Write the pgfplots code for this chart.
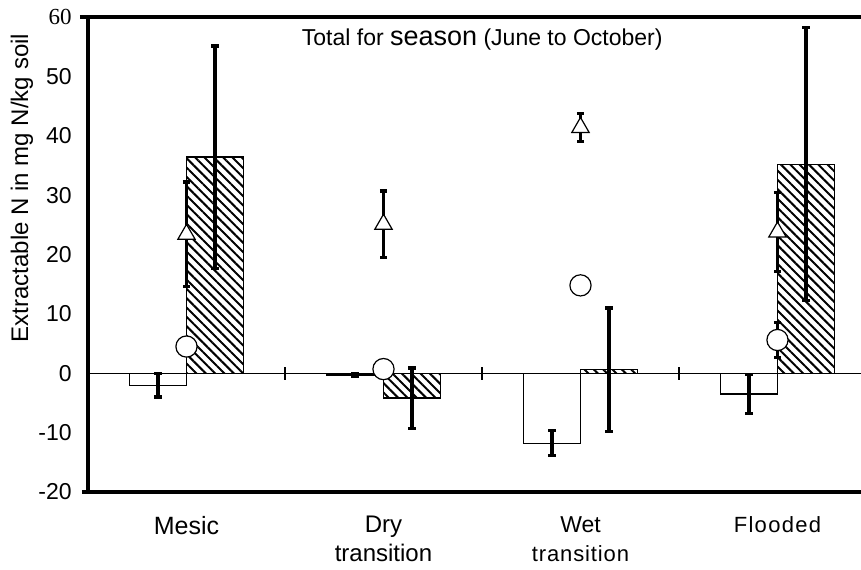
\documentclass[border=0pt]{standalone}
\usepackage{fontspec}
\setmainfont{Liberation Sans}
\newfontfamily\seriffont{Liberation Serif}
\usepackage{pgfplots}
\usepackage{pgfplotstable}
\pgfplotsset{compat=1.18}
\usetikzlibrary{patterns.meta}

\pgfplotstableread{
x y e
0.355 -2.0 2.0
1.355 -0.3 0.3
2.355 -11.8 2.1
3.355 -3.5 3.3
}\whitebars
\pgfplotstableread{
x y e
0.645 36.4 18.7
1.645 -4.2 5.1
2.645 0.6 10.4
3.645 35.2 23.0
}\hatchbars
\pgfplotstableread{
x y e
0.5 23.4 8.8
1.5 25.1 5.6
2.5 41.4 2.4
3.5 23.8 6.6
}\triangles
\pgfplotstableread{
x y e
0.5 4.5 0
1.5 0.7 0
2.5 14.8 0
3.5 5.6 3.0
}\circles

\begin{document}
\begin{tikzpicture}
\useasboundingbox (-44pt,-38.5pt) rectangle (386.5pt,246pt);
\begin{axis}[
  at={(0,0)}, anchor=south west,
  scale only axis, width=386.5pt, height=237.5pt,
  xmin=0, xmax=3.924, ymin=-20, ymax=60,
  clip=false,
  axis lines*=left,
  axis line style={-},
  x axis line style={line width=2.2pt},
  y axis line style={line width=1.8pt},
  major tick length=0pt,
  xtick={0.5,1.5,2.5,3.5},
  xticklabels={
    {\fontsize{12.5}{14.5}\selectfont Mesic},
    {\fontsize{12}{14.5}\selectfont Dry}\\{\fontsize{12}{14.5}\selectfont transition},
    {\fontsize{11.5}{14.5}\selectfont Wet}\\{\fontsize{11}{14.5}\selectfont\addfontfeature{LetterSpace=4}transition},
    {\fontsize{11}{14.5}\selectfont\addfontfeature{LetterSpace=6}Flooded}},
  xticklabel style={anchor=north, inner sep=0pt, yshift=-12pt, align=center, font=\fontsize{12}{14.5}\selectfont},
  ytick={-20,-10,0,10,20,30,40,50,60},
  yticklabels={-20,-10,0,10,20,30,40,50,{\seriffont 60}},
  yticklabel style={anchor=east, inner sep=0pt, xshift=-8pt, font=\fontsize{11.5}{13}\selectfont},
  errstyle/.style={error bars/.cd, y dir=both, y explicit,
    error bar style={line width=1.6pt, black, solid},
    error mark=|,
    error mark options={draw=black, fill=black, line width=1.6pt, mark size=1.8pt}},
]
% zero line and group separators
\draw[line width=0.6pt] (axis cs:0,0) -- (axis cs:3.924,0);
\draw[line width=0.6pt] (axis cs:1,-1.1) -- (axis cs:1,1.1);
\draw[line width=0.6pt] (axis cs:2,-1.1) -- (axis cs:2,1.1);
\draw[line width=0.6pt] (axis cs:3,-1.1) -- (axis cs:3,1.1);

\addplot[ybar, bar width=0.29, fill=white, draw=black, line width=0.6pt]
  table[x=x, y=y] {\whitebars};
\addplot[ybar, bar width=0.29, draw=black, line width=0.7pt,
  pattern={Lines[angle=-45, distance=3.3pt, line width=1pt]}]
  table[x=x, y=y] {\hatchbars};

\addplot[only marks, mark=*, mark size=0pt, mark options={draw=none, fill=none}, forget plot, errstyle]
  table[x=x, y=y, y error=e] {\whitebars};
\addplot[only marks, mark=*, mark size=0pt, mark options={draw=none, fill=none}, forget plot, errstyle]
  table[x=x, y=y, y error=e] {\hatchbars};

\addplot[only marks, mark=triangle*, mark size=5pt,
  mark options={fill=white, draw=black, line width=0.6pt}, errstyle]
  table[x=x, y=y, y error=e] {\triangles};

\addplot[only marks, mark=*, mark size=5.3pt,
  mark options={fill=white, draw=black, line width=0.6pt}, errstyle]
  table[x=x, y=y, y error=e] {\circles};

\draw[line width=1.8pt] ([xshift=-4pt]rel axis cs:0,1) -- (rel axis cs:1,1);
\draw[line width=2.2pt] ([xshift=-3pt]rel axis cs:0,0) -- (rel axis cs:0,0);

\node[font=\fontsize{11.5}{13}\selectfont] at (rel axis cs:0.51,0.952)
  {Total for {\fontsize{13.5}{15}\selectfont season} (June to October)};
\node[rotate=90, font=\fontsize{12}{14}\selectfont] at ([xshift=-33pt]rel axis cs:0,0.64)
  {Extractable N in mg N/kg soil};
\end{axis}
\end{tikzpicture}
\end{document}
